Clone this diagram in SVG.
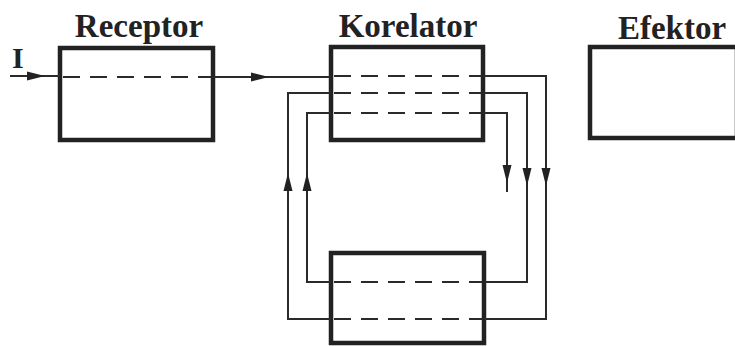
<svg xmlns="http://www.w3.org/2000/svg" xmlns:xlink="http://www.w3.org/1999/xlink" width="735" height="346" viewBox="0 0 735 346">
  <style>
    .box { fill: #fff; stroke: #222; stroke-width: 4.5; }
    .lbl { font-family: "Liberation Serif", "Times New Roman", serif; font-weight: bold; font-size: 33px; fill: #222; text-anchor: middle; }
    .ln { fill: none; stroke: #2a2a2a; stroke-width: 2; }
    .dash { fill: none; stroke: #2a2a2a; stroke-width: 2.2; stroke-dasharray: 17 10; }
    .ah { fill: #222; }
  </style>
  <defs>
    <path id="ah" d="M0,0 L-18,-4.5 L-18,4.5 Z"/>
  </defs>
  <rect width="735" height="346" fill="#fff"/>

  <g id="receptor">
    <rect class="box" x="60" y="48" width="153" height="92"/>
    <text class="lbl" x="139" y="37">Receptor</text>
  </g>
  <g id="korelator">
    <rect class="box" x="331" y="47" width="152" height="93"/>
    <text class="lbl" x="408" y="37">Korelator</text>
  </g>
  <g id="lower">
    <rect class="box" x="331" y="253" width="153" height="90"/>
  </g>
  <g id="efektor">
    <rect class="box" x="590" y="47" width="147" height="91"/>
    <text class="lbl" x="672" y="39">Efektor</text>
  </g>
  <g id="input-label">
    <text x="12" y="68" font-family="Liberation Serif, serif" font-weight="bold" font-size="30" fill="#222">I</text>
  </g>

  <g id="connectors">
    <!-- input -->
    <path class="ln" d="M10,76 L60,76"/>
    <use href="#ah" class="ah" transform="translate(45,76)"/>
    <path class="dash" d="M63,77 L211,77"/>
    <!-- receptor to korelator -->
    <path class="ln" d="M213,77 L331,77"/>
    <use href="#ah" class="ah" transform="translate(269,77)"/>
    <!-- korelator dashed channels -->
    <path class="dash" d="M334,76 L481,76"/>
    <path class="dash" d="M334,93 L481,93"/>
    <path class="dash" d="M334,113 L481,113"/>
    <!-- lower box dashed channels -->
    <path class="dash" d="M334,282 L482,282"/>
    <path class="dash" d="M334,319 L482,319"/>
    <!-- outer loop -->
    <path class="ln" d="M483,76 L546,76 L546,319 L484,319"/>
    <path class="ln" d="M331,319 L288,319 L288,93 L331,93"/>
    <!-- middle loop -->
    <path class="ln" d="M483,93 L527,93 L527,282 L484,282"/>
    <path class="ln" d="M331,282 L307,282 L307,113 L331,113"/>
    <!-- inner -->
    <path class="ln" d="M483,113 L507,113 L507,192"/>
    <!-- arrowheads -->
    <use href="#ah" class="ah" transform="translate(507,183) rotate(90)"/>
    <use href="#ah" class="ah" transform="translate(527,186) rotate(90)"/>
    <use href="#ah" class="ah" transform="translate(546,186) rotate(90)"/>
    <use href="#ah" class="ah" transform="translate(288,173) rotate(-90)"/>
    <use href="#ah" class="ah" transform="translate(307,173) rotate(-90)"/>
  </g>
</svg>
